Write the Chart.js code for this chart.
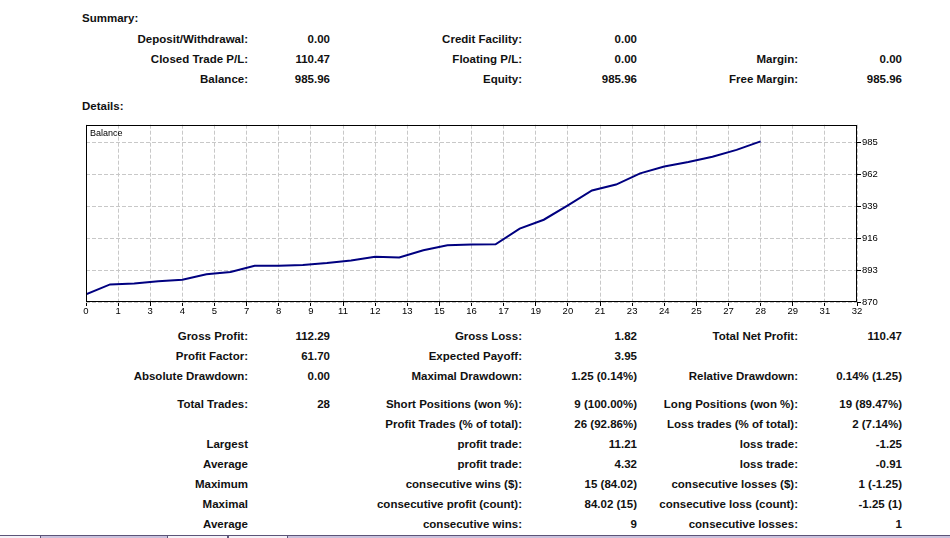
<!DOCTYPE html>
<html lang="en">
<head>
  <meta charset="UTF-8">
  <title>Strategy Tester Report</title>
  <script src="https://cdn.jsdelivr.net/npm/chart.js"></script>
  <style>
    body { margin: 0; width: 950px; height: 538px; background: #fff; position: relative; overflow: hidden;
           font-family: "Liberation Sans", Arial, sans-serif; font-weight: bold; font-size: 11.5px; color: #111; }
    .t { position: absolute; white-space: nowrap; line-height: 14px; }
    .r { text-align: right; }
    #wrap { position: absolute; left: 80px; top: 118px; width: 810px; height: 210px; }
    .tabbar { position: absolute; left: 0; top: 535px; width: 950px; height: 3px; background: #c9c1dc; border-top: 1px solid #5c5478; }
    .tab { position: absolute; top: 535px; height: 3px; background: #f4f2f8; border: 1px solid #5c5478; border-bottom: none; }
  </style>
</head>
<body>

  <div id="wrap"><canvas id="chart0"></canvas></div>
  <div class="tabbar"></div>
  <div class="tab" style="left:-1px;width:40px"></div>
  <div class="tab" style="left:167px;width:59px"></div>
  <div class="tab" style="left:228px;width:58px"></div>

  <script>
    /* Balance after each trade (trade 0 = start). */
    const balance = [875.49, 882.7, 883.4, 884.9, 886.0, 890.1, 891.6, 896.1, 896.1, 896.8,
      898.2, 900.0, 902.6, 902.1, 907.4, 911.0, 911.5, 911.7, 923.0, 929.4,
      939.7, 950.5, 954.8, 962.9, 967.8, 971.1, 974.9, 979.8, 985.96]
    const xTickLabels = [0, 1, 3, 4, 5, 7, 8, 9, 11, 12, 13, 15, 16, 17, 19, 20, 21, 23, 24, 25, 27, 28, 29, 31, 32]
    const yTicks = [870, 893, 916, 939, 962, 985]
    const xMax = 32
    const yMin = 870
    const yMax = 998

    /* Report text: [centre y, [right edge x, text]...] */
    const summaryRows = [
      [39, [[248, "Deposit/Withdrawal:"], [330, "0.00"], [522, "Credit Facility:"], [637, "0.00"]]],
      [59, [[248, "Closed Trade P/L:"], [330, "110.47"], [522, "Floating P/L:"], [637, "0.00"], [798, "Margin:"], [902, "0.00"]]],
      [79, [[248, "Balance:"], [330, "985.96"], [522, "Equity:"], [637, "985.96"], [798, "Free Margin:"], [902, "985.96"]]],
    ]
    const detailRows = [
      [336, [[248, "Gross Profit:"], [330, "112.29"], [522, "Gross Loss:"], [637, "1.82"], [798, "Total Net Profit:"], [902, "110.47"]]],
      [356, [[248, "Profit Factor:"], [330, "61.70"], [522, "Expected Payoff:"], [637, "3.95"]]],
      [376, [[248, "Absolute Drawdown:"], [330, "0.00"], [522, "Maximal Drawdown:"], [637, "1.25 (0.14%)"], [798, "Relative Drawdown:"], [902, "0.14% (1.25)"]]],
      [404, [[248, "Total Trades:"], [330, "28"], [522, "Short Positions (won %):"], [637, "9 (100.00%)"], [798, "Long Positions (won %):"], [902, "19 (89.47%)"]]],
      [424, [[522, "Profit Trades (% of total):"], [637, "26 (92.86%)"], [798, "Loss trades (% of total):"], [902, "2 (7.14%)"]]],
      [444, [[248, "Largest"], [522, "profit trade:"], [637, "11.21"], [798, "loss trade:"], [902, "-1.25"]]],
      [464, [[248, "Average"], [522, "profit trade:"], [637, "4.32"], [798, "loss trade:"], [902, "-0.91"]]],
      [484, [[248, "Maximum"], [522, "consecutive wins ($):"], [637, "15 (84.02)"], [798, "consecutive losses ($):"], [902, "1 (-1.25)"]]],
      [504, [[248, "Maximal"], [522, "consecutive profit (count):"], [637, "84.02 (15)"], [798, "consecutive loss (count):"], [902, "-1.25 (1)"]]],
      [524, [[248, "Average"], [522, "consecutive wins:"], [637, "9"], [798, "consecutive losses:"], [902, "1"]]],
    ]

    const addText = (text, y, right, left) => {
      const el = document.createElement("div")
      el.className = "t" + (right !== null ? " r" : "")
      el.textContent = text
      el.style.top = (y - 7) + "px"
      if (right !== null) el.style.right = (950 - right) + "px"
      else el.style.left = left + "px"
      document.body.appendChild(el)
    }

    addText("Summary:", 18, null, 82)
    addText("Details:", 106, null, 82)
    summaryRows.concat(detailRows).forEach(([y, cells]) => {
      cells.forEach(([x, text]) => addText(text, y, x))
    })

    /* Black frame round the plot and the "Balance" caption. */
    const framePlugin = {
      id: "frame",
      afterDraw(chart) {
        const { ctx, chartArea: a } = chart
        ctx.save()
        ctx.strokeStyle = "#000"
        ctx.lineWidth = 1
        ctx.setLineDash([])
        ctx.strokeRect(Math.round(a.left) + 0.5, Math.round(a.top) + 0.5,
          Math.round(a.right - a.left) - 1, Math.round(a.bottom - a.top) - 1)
        ctx.fillStyle = "#000"
        ctx.font = "9px 'Liberation Sans', Arial, sans-serif"
        ctx.textBaseline = "middle"
        ctx.fillText("Balance", a.left + 4, a.top + 9)
        ctx.restore()
      }
    }

    const gridStyle = {
      color: "#c8c8c8",
      tickColor: "#000",
      tickBorderDash: [],
      tickLength: 4,
      lineWidth: 1,
    }
    /* in v4 the grid line dash lives under border */
    const borderStyle = { display: false, dash: [4, 2] }

    const ctx0 = document.getElementById("chart0").getContext("2d")
    const myChart0 = new Chart(ctx0, {
      type: "line",
      data: {
        datasets: [{
          label: "Balance",
          data: balance.map((v, i) => ({ x: i, y: v })),
          borderColor: "#000080",
          borderWidth: 2,
          pointRadius: 0,
          tension: 0,
          fill: false,
        }]
      },
      options: {
        responsive: true,
        maintainAspectRatio: false,
        animation: false,
        layout: { padding: { left: 6, top: 6, right: 0, bottom: 0 } },
        plugins: { legend: { display: false }, tooltip: { enabled: false } },
        scales: {
          x: {
            type: "linear",
            min: 0,
            max: xMax,
            grid: gridStyle,
            border: borderStyle,
            afterBuildTicks: scale => {
              scale.ticks = xTickLabels.map((t, k) => ({ value: k * xMax / (xTickLabels.length - 1) }))
            },
            afterFit: scale => { scale.height = 26 },
            ticks: {
              autoSkip: false,
              maxRotation: 0,
              padding: 0,
              color: "#000",
              font: { family: "'Liberation Sans', Arial, sans-serif", size: 9.5 },
              callback: (v, i) => xTickLabels[i],
            },
          },
          y: {
            position: "right",
            min: yMin,
            max: yMax,
            grid: gridStyle,
            border: borderStyle,
            afterBuildTicks: scale => {
              scale.ticks = yTicks.map(v => ({ value: v }))
            },
            afterFit: scale => { scale.width = 33 },
            ticks: {
              padding: 1,
              color: "#000",
              font: { family: "'Liberation Sans', Arial, sans-serif", size: 9.5 },
              callback: v => v,
            },
          },
        },
      },
      plugins: [framePlugin],
    })
  </script>

</body>
</html>
